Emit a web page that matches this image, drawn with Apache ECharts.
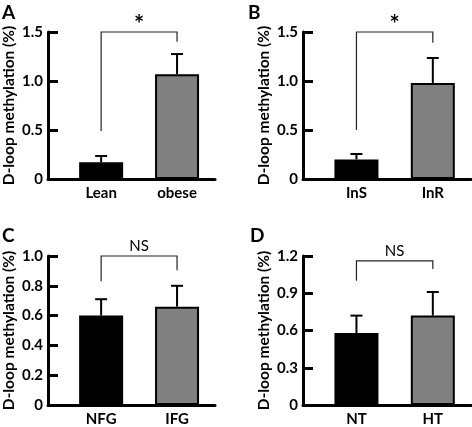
<!DOCTYPE html>
<html>
<head>
<meta charset="utf-8">
<script src="https://cdn.jsdelivr.net/npm/echarts@6/dist/echarts.min.js"></script>
<style>
html,body{margin:0;padding:0;background:#fff;}
#c{width:472px;height:427px;}
</style>
</head>
<body>
<div id="c"></div>
<script>
// ---- data ----
const catsA = ['Lean', 'obese'];
const meanA = [0.17, 1.07];
const errA  = [0.065, 0.205];
const bracketA = [1.5, 0.49, 1.40];   // top, left leg end, right leg end
const sigA = '*';
const ticksA = ['0', '0.5', '1.0', '1.5'];

const catsB = ['InS', 'InR'];
const meanB = [0.20, 0.98];
const errB  = [0.055, 0.255];
const bracketB = [1.5, 0.50, 1.39];
const sigB = '*';
const ticksB = ['0', '0.5', '1.0', '1.5'];

const catsC = ['NFG', 'IFG'];
const meanC = [0.60, 0.66];
const errC  = [0.11, 0.14];
const bracketC = [1.0, 0.83, 0.905];
const sigC = 'NS';
const ticksC = ['0', '0.2', '0.4', '0.6', '0.8', '1.0'];

const catsD = ['NT', 'HT'];
const meanD = [0.58, 0.72];
const errD  = [0.14, 0.19];
const bracketD = [1.16, 1.0, 1.095];
const sigD = 'NS';
const ticksD = ['0', '0.3', '0.6', '0.9', '1.2'];

const panelLetters = ['A', 'B', 'C', 'D'];
const yTitle = 'D-loop methylation (%)';

// ---- styles ----
const barColors = ['#000000', '#808080'];
const FONT = 'Lato';

const grids = [
  {left: 47, top: 32, width: 168, height: 147},
  {left: 303, top: 32, width: 168, height: 147},
  {left: 47, top: 256, width: 168, height: 149},
  {left: 303, top: 256, width: 168, height: 149}
];
const yMax = [1.5, 1.5, 1.0, 1.2];
const yInt = [0.5, 0.5, 0.2, 0.3];
const letterPos = [[2, 3], [248, 3], [2, 226], [250, 226]];

const panels = [
  [catsA, meanA, errA, bracketA, sigA, ticksA],
  [catsB, meanB, errB, bracketB, sigB, ticksB],
  [catsC, meanC, errC, bracketC, sigC, ticksC],
  [catsD, meanD, errD, bracketD, sigD, ticksD]
];

const xAxis = [], yAxis = [], series = [], title = [];
panels.forEach(function (p, k) {
  const cats = p[0], mean = p[1], err = p[2], br = p[3], sig = p[4], ticks = p[5];
  const xs = cats.map(function (c, i) { return i + 1; });
  xAxis.push({
    type: 'value', gridIndex: k, min: 0.3, max: 2.5,
    axisLine: {show: true, lineStyle: {color: '#000', width: 3}},
    axisTick: {show: false},
    splitLine: {show: false},
    axisLabel: {
      customValues: xs,
      formatter: function (v) { return cats[Math.round(v) - 1]; },
      color: '#000', fontFamily: FONT, fontWeight: 'bold', fontSize: 15, margin: 7
    }
  });
  yAxis.push({
    type: 'value', gridIndex: k, min: 0, max: yMax[k], interval: yInt[k],
    name: yTitle, nameLocation: 'middle', nameGap: 31, nameRotate: 90,
    nameTextStyle: {color: '#000', fontFamily: FONT, fontWeight: 'bold', fontSize: 15.5},
    axisLine: {show: true, lineStyle: {color: '#000', width: 3}},
    axisTick: {show: true, inside: true, length: 10, lineStyle: {color: '#000', width: 3}},
    splitLine: {show: false},
    axisLabel: {
      formatter: function (v, i) { return ticks[i]; },
      color: '#000', fontFamily: FONT, fontWeight: 'bold', fontSize: 15, margin: 5
    }
  });
  series.push({
    type: 'bar', xAxisIndex: k, yAxisIndex: k, barWidth: 44,
    data: mean.map(function (m, i) {
      return {value: [xs[i], m], itemStyle: {color: barColors[i], borderColor: '#000', borderWidth: 2}};
    }),
    z: 2
  });
  series.push({
    type: 'custom', xAxisIndex: k, yAxisIndex: k, z: 1,
    data: mean.map(function (m, i) { return [xs[i], m, err[i]]; }),
    renderItem: function (params, api) {
      const x = api.value(0), m = api.value(1), e = api.value(2);
      const p0 = api.coord([x, m]);
      const p1 = api.coord([x, m + e]);
      return {
        type: 'group',
        children: [
          {type: 'line', shape: {x1: p0[0], y1: p0[1], x2: p1[0], y2: p1[1]}, style: {stroke: '#000', lineWidth: 2}},
          {type: 'line', shape: {x1: p1[0] - 6, y1: p1[1], x2: p1[0] + 6, y2: p1[1]}, style: {stroke: '#000', lineWidth: 2}}
        ]
      };
    }
  });
  series.push({
    type: 'custom', xAxisIndex: k, yAxisIndex: k, z: 3, clip: false,
    data: [[xs[0], xs[1], br[0], br[1], br[2]]],
    renderItem: function (params, api) {
      const x1 = api.value(0), x2 = api.value(1), top = api.value(2), l = api.value(3), r = api.value(4);
      const a = api.coord([x1, l]), b = api.coord([x1, top]), c = api.coord([x2, top]), d = api.coord([x2, r]);
      const isStar = sig === '*';
      return {
        type: 'group',
        children: [
          {type: 'polyline', shape: {points: [a, b, c, d]}, style: {stroke: '#222', lineWidth: 1.2, fill: null}},
          {type: 'text', x: (b[0] + c[0]) / 2, y: b[1] + (isStar ? 5 : -2),
            style: {text: sig, fill: '#000', fontFamily: FONT, fontWeight: isStar ? 'bold' : 'normal',
              fontSize: isStar ? 24 : 15, align: 'center', verticalAlign: 'bottom'}}
        ]
      };
    }
  });
  title.push({
    text: panelLetters[k], left: letterPos[k][0], top: letterPos[k][1], padding: 0,
    textStyle: {color: '#000', fontFamily: FONT, fontWeight: 'bold', fontSize: 19}
  });
});

const chart = echarts.init(document.getElementById('c'), null, {renderer: 'canvas'});
chart.setOption({
  animation: false,
  backgroundColor: '#fff',
  title: title,
  grid: grids,
  xAxis: xAxis,
  yAxis: yAxis,
  series: series
});
</script>
</body>
</html>
